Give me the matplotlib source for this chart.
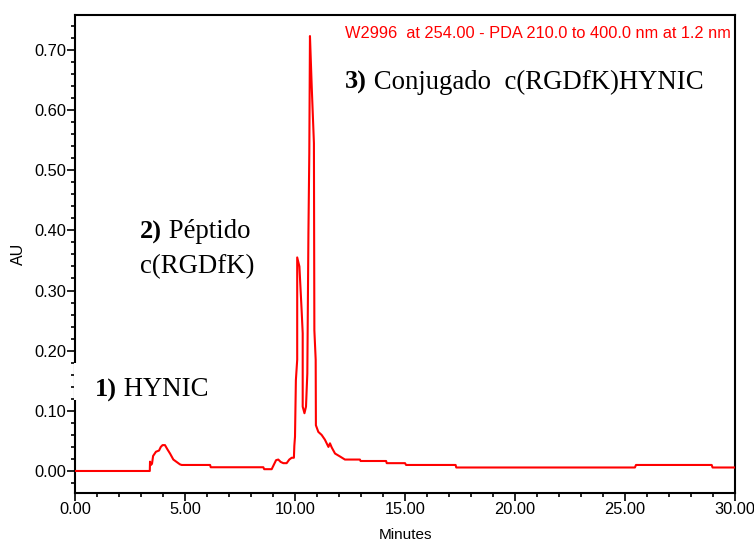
import matplotlib
matplotlib.use("Agg")
import matplotlib.pyplot as plt
from matplotlib.ticker import MultipleLocator, FormatStrFormatter
from matplotlib.patches import Rectangle

# Chromatogram data (Minutes, AU)
minutes = [0.00, 3.40, 3.41, 3.45, 3.50, 3.55, 3.68, 3.82, 3.90, 3.98, 4.09, 4.20,
           4.32, 4.47, 4.62, 4.77, 4.85, 6.14, 6.17, 8.56, 8.60, 8.94, 9.14, 9.24,
           9.35, 9.47, 9.62, 9.74, 9.85, 9.95, 9.97, 10.00, 10.04, 10.10, 10.10,
           10.20, 10.30, 10.35, 10.35, 10.43, 10.50, 10.56, 10.61, 10.65, 10.68,
           10.76, 10.86, 10.88, 10.94, 10.95, 11.06, 11.21, 11.36, 11.52, 11.59,
           11.67, 11.82, 12.05, 12.27, 12.50, 12.95, 12.98, 14.14, 14.17, 15.00,
           15.05, 17.30, 17.33, 25.45, 25.50, 28.94, 28.98, 30.00]
au = [0.000, 0.000, 0.0155, 0.010, 0.012, 0.025, 0.032, 0.034, 0.040, 0.043, 0.043,
      0.036, 0.029, 0.019, 0.015, 0.011, 0.010, 0.010, 0.0062, 0.0062, 0.003, 0.003,
      0.018, 0.019, 0.015, 0.013, 0.013, 0.019, 0.022, 0.022, 0.042, 0.057, 0.151,
      0.185, 0.355, 0.340, 0.268, 0.229, 0.107, 0.096, 0.107, 0.162, 0.395, 0.528,
      0.723, 0.639, 0.545, 0.234, 0.185, 0.076, 0.065, 0.060, 0.052, 0.040, 0.046,
      0.039, 0.029, 0.024, 0.019, 0.019, 0.019, 0.0166, 0.0166, 0.013, 0.013,
      0.010, 0.010, 0.0058, 0.0058, 0.010, 0.010, 0.0058, 0.0058]

x_ticks = [0, 5, 10, 15, 20, 25, 30]
y_ticks = [0.0, 0.1, 0.2, 0.3, 0.4, 0.5, 0.6, 0.7]

header = "W2996  at 254.00 - PDA 210.0 to 400.0 nm at 1.2 nm"
labels = [("1)", " HYNIC"), ("2)", " Péptido"), ("", "c(RGDfK)"),
          ("3)", " Conjugado  c(RGDfK)HYNIC")]

W, H = 754, 541
fig = plt.figure(figsize=(W / 100, H / 100), dpi=100)
ax = fig.add_axes([75 / W, (H - 493) / H, 660 / W, 478 / H])

ax.plot(minutes, au, color="#ff0000", lw=1.5, zorder=3)
ax.set_xlim(0, 30)
ax.set_ylim(-0.0366, 0.758)

sans = "Liberation Sans"
ax.set_xticks(x_ticks)
ax.set_yticks(y_ticks)
ax.xaxis.set_major_formatter(FormatStrFormatter("%.2f"))
ax.yaxis.set_major_formatter(FormatStrFormatter("%.2f"))
ax.xaxis.set_minor_locator(MultipleLocator(1))
ax.yaxis.set_minor_locator(MultipleLocator(0.02))
ax.tick_params(which="major", length=5.5, width=1.2, labelsize=11.8, pad=1, color="black")
ax.tick_params(which="minor", length=3, width=1.2, color="black")
for lab in ax.get_xticklabels() + ax.get_yticklabels():
    lab.set_fontfamily(sans)
for s in ax.spines.values():
    s.set_linewidth(1.5)

ax.set_xlabel("Minutes", fontfamily=sans, fontsize=11, labelpad=8)
ax.set_ylabel("AU", fontfamily=sans, fontsize=11.5, labelpad=6)

fig.text(731 / W, 1 - 33 / H, header, color="#ff0000", fontfamily=sans,
         fontsize=11.8, ha="right", va="center")

serif = "Liberation Serif"
fig.canvas.draw()
renderer = fig.canvas.get_renderer()
positions = [(95, 390), (140, 232), (140, 267), (345, 82)]
for (bold, rest), (px, py) in zip(labels, positions):
    x = px / W
    y = 1 - py / H
    if bold:
        t = fig.text(x, y, bold, fontfamily=serif, fontweight="bold", fontsize=19,
                     ha="left", va="center")
        bb = t.get_window_extent(renderer)
        x = bb.x1 / W
    fig.text(x, y, rest, fontfamily=serif, fontsize=19.3, ha="left", va="center")

# white gap in the left spine behind the "1) HYNIC" label
fig.add_artist(Rectangle((73.5 / W, 1 - 400 / H), 3.5 / W, 37 / H,
                         transform=fig.transFigure, facecolor="white",
                         edgecolor="none", zorder=10))

fig.savefig("out.png", dpi=100)
